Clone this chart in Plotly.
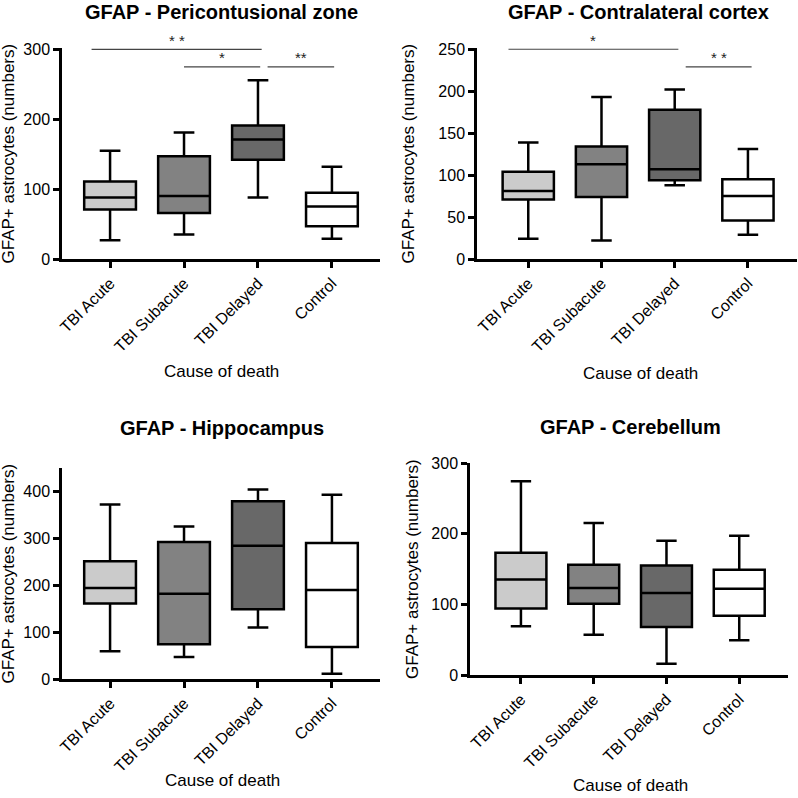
import plotly.graph_objects as go

categories = ["TBI Acute", "TBI Subacute", "TBI Delayed", "Control"]
positions = [0, 1, 2, 3]

peri_low = [27, 35, 88, 29]
peri_q1 = [71, 66, 142, 47]
peri_med = [88, 90, 171, 75]
peri_q3 = [111, 147, 191, 95]
peri_high = [155, 181, 256, 132]

contra_low = [24, 22, 88, 29]
contra_q1 = [71, 74, 94, 46]
contra_med = [81, 113, 107, 75]
contra_q3 = [104, 134, 178, 95]
contra_high = [139, 193, 202, 131]

hippo_low = [59, 47, 110, 11]
hippo_q1 = [161, 74, 149, 68]
hippo_med = [194, 182, 284, 190]
hippo_q3 = [251, 292, 379, 290]
hippo_high = [372, 325, 404, 393]

cereb_low = [69, 57, 16, 49]
cereb_q1 = [94, 101, 68, 84]
cereb_med = [135, 123, 116, 122]
cereb_q3 = [173, 156, 155, 149]
cereb_high = [274, 215, 190, 197]

# significance brackets: start, end, level, label
peri_sig_start = [-0.25, 1.0, 2.13]
peri_sig_end = [2.05, 2.03, 3.03]
peri_sig_y = [300, 275, 275]
peri_sig_label = ["* *", "*", "**"]

contra_sig_start = [-0.27, 2.15]
contra_sig_end = [2.05, 3.05]
contra_sig_y = [250, 229]
contra_sig_label = ["*", "* *"]

titles = ["GFAP - Pericontusional zone", "GFAP - Contralateral cortex",
          "GFAP - Hippocampus", "GFAP - Cerebellum"]
y_ticks = [[0, 100, 200, 300], [0, 50, 100, 150, 200, 250],
           [0, 100, 200, 300, 400], [0, 100, 200, 300]]
y_ranges = [[0, 302], [0, 251.5], [0, 450], [0, 300]]

fills = ["#cbcbcb", "#828282", "#686868", "#ffffff"]
FONT = "Arial, Liberation Sans, sans-serif"

W = 798
# panel geometry in pixels (left, right, top, bottom)
geo = [(62, 380, 48, 259), (477, 797, 48, 259),
       (62, 380, 468, 679), (470, 788, 463, 675)]
x_ranges = [[-0.65, 3.65], [-0.70, 3.67], [-0.65, 3.65], [-0.70, 3.67]]
title_y = [12, 12, 428, 427]
title_x = [221, 638, 222, 630]
ytitle_x = [8, 408, 8, 412]
xtitle = [(221, 371), (640, 373), (222, 780), (630, 785)]

panels = [
    (peri_low, peri_q1, peri_med, peri_q3, peri_high),
    (contra_low, contra_q1, contra_med, contra_q3, contra_high),
    (hippo_low, hippo_q1, hippo_med, hippo_q3, hippo_high),
    (cereb_low, cereb_q1, cereb_med, cereb_q3, cereb_high),
]

fig = go.Figure()
layout = dict(width=W, height=W, margin=dict(l=0, r=0, t=0, b=0, pad=0),
              paper_bgcolor="white", plot_bgcolor="white", showlegend=False,
              boxmode="overlay", font=dict(family=FONT, color="black"))
annotations = []

for p, (lo, q1, med, q3, hi) in enumerate(panels):
    n = "" if p == 0 else str(p + 1)
    xa, ya = "x" + n, "y" + n
    for i in range(4):
        fig.add_trace(go.Box(
            x=[positions[i]], q1=[q1[i]], median=[med[i]], q3=[q3[i]],
            lowerfence=[lo[i]], upperfence=[hi[i]],
            fillcolor=fills[i], line=dict(color="black", width=2.5),
            width=0.7, whiskerwidth=0.4, boxpoints=False,
            hoverinfo="skip", xaxis=xa, yaxis=ya))
    l, r, t, b = geo[p]
    layout["xaxis" + n] = dict(
        domain=[l / W, r / W], range=x_ranges[p], anchor=ya,
        tickvals=positions, ticktext=categories, tickangle=-45,
        showline=True, linecolor="black", linewidth=2.5,
        ticks="outside", ticklen=6, tickwidth=2.5, tickcolor="black",
        showgrid=False, zeroline=False, automargin=False,
        tickfont=dict(size=16, family=FONT))
    layout["yaxis" + n] = dict(
        domain=[1 - b / W, 1 - t / W], range=y_ranges[p], anchor=xa,
        tickvals=y_ticks[p],
        showline=True, linecolor="black", linewidth=2.5,
        ticks="outside", ticklen=6, tickwidth=2.5, tickcolor="black",
        showgrid=False, zeroline=False, automargin=False,
        tickfont=dict(size=16, family=FONT))
    annotations.append(dict(
        text="<b>" + titles[p] + "</b>", xref="paper", yref="paper",
        x=title_x[p] / W, y=1 - title_y[p] / W,
        xanchor="center", yanchor="middle", showarrow=False,
        font=dict(size=20, family=FONT)))
    annotations.append(dict(
        text="GFAP+ astrocytes (numbers)", xref="paper", yref="paper",
        x=ytitle_x[p] / W, y=1 - (t + b) / 2 / W, textangle=-90,
        xanchor="center", yanchor="middle", showarrow=False,
        font=dict(size=17, family=FONT)))
    annotations.append(dict(
        text="Cause of death", xref="paper", yref="paper",
        x=xtitle[p][0] / W, y=1 - xtitle[p][1] / W,
        xanchor="center", yanchor="middle", showarrow=False,
        font=dict(size=17, family=FONT)))

sig_sets = [(0, peri_sig_start, peri_sig_end, peri_sig_y, peri_sig_label),
            (1, contra_sig_start, contra_sig_end, contra_sig_y, contra_sig_label)]
for p, s0, s1, sy, sl in sig_sets:
    n = "" if p == 0 else str(p + 1)
    for a, bb, yv, lab in zip(s0, s1, sy, sl):
        fig.add_trace(go.Scatter(
            x=[a, bb], y=[yv, yv], mode="lines",
            line=dict(color="#444444", width=1.2), hoverinfo="skip",
            xaxis="x" + n, yaxis="y" + n))
        annotations.append(dict(
            text=lab, x=(a + bb) / 2, y=yv, xref="x" + n, yref="y" + n,
            yanchor="middle", xanchor="center", yshift=9, showarrow=False,
            font=dict(size=15, color="#222222", family=FONT)))

layout["annotations"] = annotations
fig.update_layout(**layout)
fig.write_html(
    "out.html",
    config={"displayModeBar": False},
    post_script="document.body.style.margin='0';document.body.style.overflow='hidden';")
